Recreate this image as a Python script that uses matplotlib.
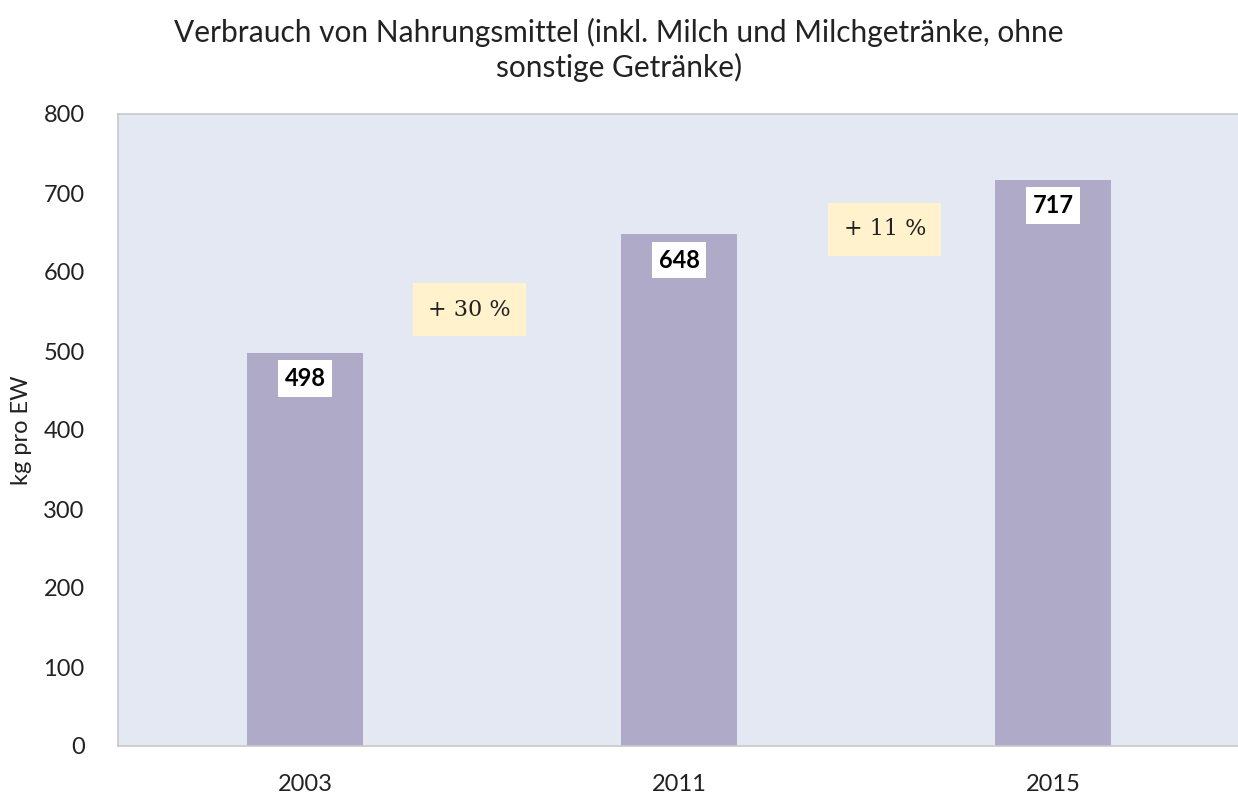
import matplotlib.pyplot as plt

years = ['2003', '2011', '2015']
values = [498, 648, 717]
changes = ['+ 30 %', '+ 11 %']
change_pos = [(0.44, 552), (1.55, 654)]

plt.rcParams['font.family'] = ['Lato', 'DejaVu Sans']

fig = plt.figure(figsize=(12.38, 7.94), dpi=100)
ax = fig.add_axes([118/1238, 48/794, 1122/1238, 632/794])
ax.set_facecolor('#E4E8F2')

x = range(len(years))
ax.bar(x, values, width=0.31, color='#AEAAC8', zorder=2)

for xi, v in zip(x, values):
    ax.text(xi, v - 33, str(v), ha='center', va='center', fontsize=17,
            fontweight='bold', color='black', zorder=3,
            bbox=dict(facecolor='white', edgecolor='none', pad=5))

for (cx, cy), txt in zip(change_pos, changes):
    ax.text(cx, cy, txt, ha='center', va='center', fontsize=16,
            family='DejaVu Serif', color='#222222', zorder=3,
            bbox=dict(facecolor='#FFF2CC', edgecolor='none', boxstyle='square,pad=0.7'))

ax.set_xlim(-0.5, 2.5)
ax.set_ylim(0, 800)
ax.set_yticks(range(0, 801, 100))
ax.set_xticks(list(x))
ax.set_xticklabels(years)
ax.tick_params(axis='both', labelsize=17, length=0, colors='#222222')
ax.tick_params(axis='y', pad=24)
ax.tick_params(axis='x', pad=20)
for s in ['top', 'left', 'bottom']:
    ax.spines[s].set_color('#C8C8C8')
    ax.spines[s].set_linewidth(1.2)
ax.spines['right'].set_visible(False)

ax.set_ylabel('kg pro EW', fontsize=17, color='#222222', labelpad=8)

fig.text(0.5, 0.937, 'Verbrauch von Nahrungsmittel (inkl. Milch und Milchgetränke, ohne\nsonstige Getränke)',
         ha='center', va='center', fontsize=21.5, color='#222222', linespacing=1.25)

fig.savefig('out.png', dpi=100)
